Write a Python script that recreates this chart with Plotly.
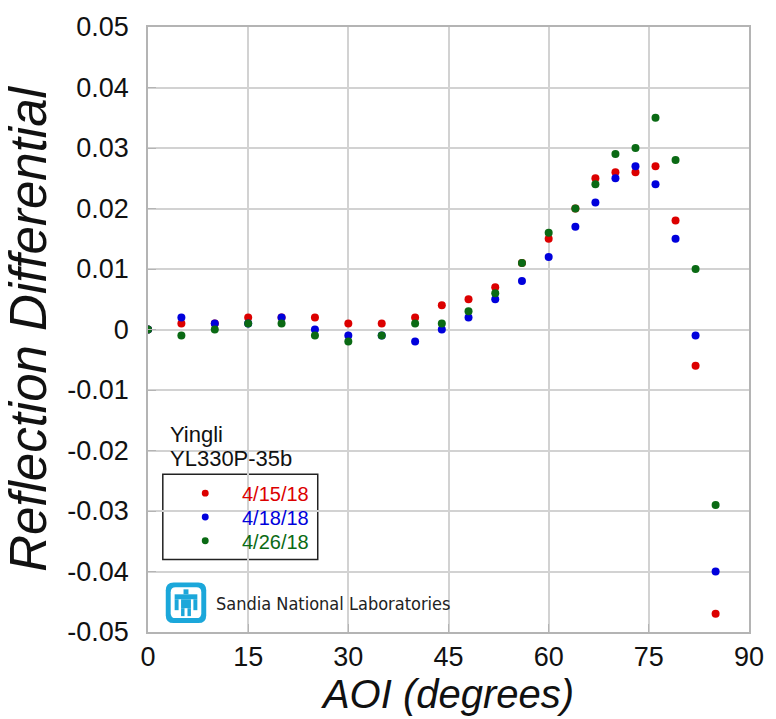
import plotly.graph_objects as go

aoi = [0, 5, 10, 15, 20, 25, 30, 35, 40, 44, 48, 52, 56, 60, 64, 67, 70, 73, 76, 79, 82, 85]
d_0415 = [0, 0.001, 0.001, 0.002, 0.002, 0.002, 0.001, 0.001, 0.002, 0.004, 0.005, 0.007,
          0.011, 0.015, 0.020, 0.025, 0.026, 0.026, 0.027, 0.018, -0.006, -0.047]
d_0418 = [0, 0.002, 0.001, 0.001, 0.002, 0.0, -0.001, -0.001, -0.002, 0.0, 0.002, 0.005,
          0.008, 0.012, 0.017, 0.021, 0.025, 0.027, 0.024, 0.015, -0.001, -0.040]
d_0426 = [0, -0.001, 0.0, 0.001, 0.001, -0.001, -0.002, -0.001, 0.001, 0.001, 0.003, 0.006,
          0.011, 0.016, 0.020, 0.024, 0.029, 0.030, 0.035, 0.028, 0.010, -0.029]
series_names = ["4/15/18", "4/18/18", "4/26/18"]
series_colors = ["#dc0000", "#0000dc", "#0a6a14"]
x_ticks = [0, 15, 30, 45, 60, 75, 90]
y_ticks = [0.05, 0.04, 0.03, 0.02, 0.01, 0, -0.01, -0.02, -0.03, -0.04, -0.05]
y_tick_text = ["0.05", "0.04", "0.03", "0.02", "0.01", "0", "-0.01", "-0.02", "-0.03", "-0.04", "-0.05"]
legend_title = ["Yingli", "YL330P-35b"]

W, H = 776, 719
L, R, T, B = 148, 19, 22, 87
PW, PH = W - L - R, H - T - B


def px(xp):
    return (xp - L) / PW


def py(yp):
    return (H - B - yp) / PH


fig = go.Figure()
for vals, nm, col in zip([d_0415, d_0418, d_0426], series_names, series_colors):
    fig.add_trace(go.Scatter(
        x=aoi, y=vals, mode="markers", name=nm, showlegend=False,
        marker=dict(color=col, size=8, line=dict(width=0)),
    ))

shapes = []
annotations = []
# white area behind legend title
shapes.append(dict(type="rect", xref="paper", yref="paper", layer="between",
                   x0=px(158), x1=px(332), y0=py(470), y1=py(420),
                   fillcolor="white", line=dict(width=0)))
# legend box
shapes.append(dict(type="rect", xref="paper", yref="paper", layer="between",
                   x0=px(163), x1=px(320), y0=py(559), y1=py(473),
                   fillcolor="white", line=dict(width=1.5, color="#222")))
# legend entries
for i, (nm, col) in enumerate(zip(series_names, series_colors)):
    yc = 492 + 24 * i
    shapes.append(dict(type="circle", xref="paper", yref="paper", layer="above",
                       x0=px(206 - 3.5), x1=px(206 + 3.5), y0=py(yc + 3.5), y1=py(yc - 3.5),
                       fillcolor=col, line=dict(width=0)))
    annotations.append(dict(text=nm, xref="paper", yref="paper", x=px(241), y=py(yc + 1),
                            xanchor="left", yanchor="middle", showarrow=False,
                            font=dict(size=20, color=col)))
for i, t in enumerate(legend_title):
    annotations.append(dict(text=t, xref="paper", yref="paper", x=px(168), y=py(433 + 24 * i),
                            xanchor="left", yanchor="middle", showarrow=False,
                            font=dict(size=22, color="#111")))

# white area behind logo
shapes.append(dict(type="rect", xref="paper", yref="paper", layer="between",
                   x0=px(150), x1=px(452), y0=py(624), y1=py(577),
                   fillcolor="white", line=dict(width=0)))

# Sandia logo icon
ix, iy = 166, 582
cyan = "#1ba7da"


def rect(x0, y0, x1, y1, color):
    return dict(type="rect", xref="paper", yref="paper", layer="above",
                x0=px(ix + x0), x1=px(ix + x1), y0=py(iy + y1), y1=py(iy + y0),
                fillcolor=color, line=dict(width=0))


def rrect(x0, y0, x1, y1, r, color):
    X0, X1 = px(ix + x0), px(ix + x1)
    Y0, Y1 = py(iy + y1), py(iy + y0)
    rx, ry = r / PW, r / PH
    path = (f"M {X0+rx},{Y0} L {X1-rx},{Y0} Q {X1},{Y0} {X1},{Y0+ry} "
            f"L {X1},{Y1-ry} Q {X1},{Y1} {X1-rx},{Y1} L {X0+rx},{Y1} "
            f"Q {X0},{Y1} {X0},{Y1-ry} L {X0},{Y0+ry} Q {X0},{Y0} {X0+rx},{Y0} Z")
    return dict(type="path", xref="paper", yref="paper", layer="above", path=path,
                fillcolor=color, line=dict(width=0))


shapes.append(rrect(0, 0, 41, 41, 8, cyan))
shapes.append(rrect(5, 5, 36, 36, 5, "white"))
shapes += [
    rect(18, 7, 23, 12, cyan),       # head
    rect(9, 12, 32, 17, cyan),       # wings
    rect(9, 17, 13, 28, cyan),       # left wing tip
    rect(28, 17, 32, 28, cyan),      # right wing tip
    rect(15.5, 17, 25.5, 26, cyan),  # body
    rect(15.5, 26, 19, 34, cyan),    # left leg
    rect(22, 26, 25.5, 34, cyan),    # right leg
]

annotations.append(dict(text="Sandia National Laboratories", xref="paper", yref="paper",
                        x=px(215), y=py(603), xanchor="left", yanchor="middle", showarrow=False,
                        font=dict(size=18, color="#222",
                                  family="Liberation Sans Narrow, DejaVu Sans Condensed, sans-serif")))

fig.update_layout(
    width=W, height=H,
    margin=dict(l=L, r=R, t=T, b=B),
    paper_bgcolor="white", plot_bgcolor="white",
    font=dict(family="Liberation Sans, Arial, Helvetica, sans-serif", color="#111"),
    showlegend=False,
    shapes=shapes,
    annotations=annotations,
)
fig.update_xaxes(
    range=[0, 90], tickvals=x_ticks, ticktext=[str(v) for v in x_ticks],
    showgrid=True, gridcolor="#d2d2d2", gridwidth=1.5,
    showline=True, linecolor="#b4b4b4", linewidth=1.5, mirror=True,
    ticks="inside", ticklen=8, tickcolor="#b4b4b4",
    tickfont=dict(size=27, color="#111"), zeroline=False,
    title=dict(text="<i>AOI (degrees)</i>", font=dict(size=40, color="#111"), standoff=0),
)
fig.update_yaxes(
    range=[-0.05, 0.05], tickvals=y_ticks, ticktext=y_tick_text,
    showgrid=True, gridcolor="#d2d2d2", gridwidth=1.5,
    showline=True, linecolor="#b4b4b4", linewidth=1.5, mirror=True,
    ticks="inside", ticklen=8, tickcolor="#b4b4b4",
    tickfont=dict(size=27, color="#111"), zeroline=False, ticklabelstandoff=12,
    title=dict(text="<i>Reflection Differential</i>", font=dict(size=51, color="#111"), standoff=12),
)

fig.write_html("out.html")
